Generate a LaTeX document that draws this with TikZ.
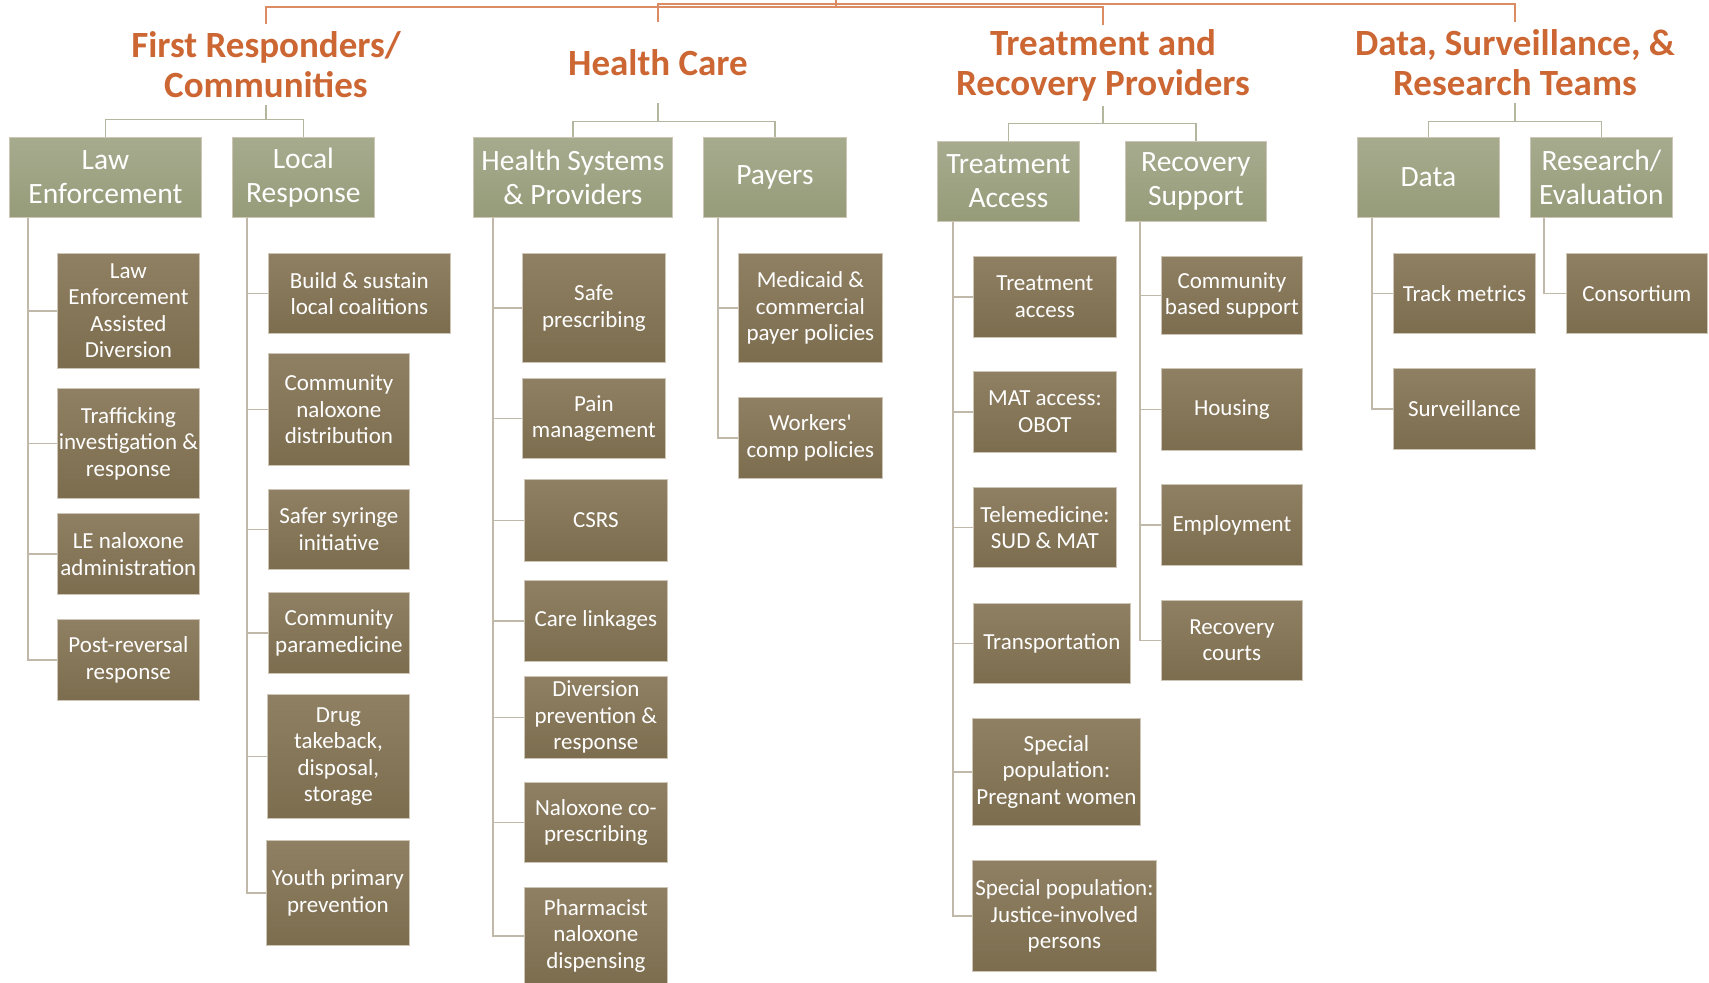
\documentclass[tikz,border=0pt]{standalone}
\usepackage{fontspec}
\setmainfont{Carlito}
\usetikzlibrary{calc}
\definecolor{ttl}{RGB}{204,102,51}
\definecolor{topln}{RGB}{220,140,100}
\definecolor{lvtwotop}{RGB}{166,171,142}
\definecolor{lvtwobot}{RGB}{150,156,121}
\definecolor{lvthrtop}{RGB}{143,128,99}
\definecolor{lvthrbot}{RGB}{125,109,79}
\definecolor{lntwo}{RGB}{180,183,158}
\definecolor{lnthr}{RGB}{192,184,168}
\definecolor{bxedge}{RGB}{205,198,182}
\newcommand\lbox[7]{\node[#1, anchor=north west, minimum width={(#5-#3)*1pt}, minimum height={(#6-#4)*1pt}] (#2) at (#3,#4) {#7};}
\begin{document}
\begin{tikzpicture}[x=1pt,y=-1pt,
  titlenode/.style={text=ttl, font=\bfseries\fontsize{37}{40}\selectfont, align=center, inner sep=0pt, anchor=north, minimum height=81pt},
  lvtwo/.style={top color=lvtwotop, bottom color=lvtwobot, draw=bxedge, line width=0.8pt, text=white, align=center, inner sep=2pt, font=\fontsize{29.5}{34}\selectfont},
  lvthr/.style={top color=lvthrtop, bottom color=lvthrbot, draw=bxedge, line width=0.8pt, text=white, align=center, inner sep=1pt, font=\fontsize{23}{26.5}\selectfont},
  lone/.style={draw=topln, line width=1.6pt},
  ltwo/.style={draw=lntwo, line width=1.6pt},
  lthr/.style={draw=lnthr, line width=1.6pt}]
\fill[white] (0,0) rectangle (1709,983);
\useasboundingbox (0,0) rectangle (1709,983);

% titles
\coordinate (root) at (836,-2);
\node[titlenode] (FR) at (266,24) {First Responders/\\Communities};
\node[titlenode] (HC) at (658,22) {Health Care};
\node[titlenode] (TR) at (1103,25) {Treatment and\\Recovery Providers};
\node[titlenode] (DS) at (1515,22) {Data, Surveillance, \&\\Research Teams};

\draw[lone] (root) -- ++(0,9) -| (FR.north);
\draw[lone] (root) -- ++(0,9) -| (TR.north);
\draw[lone] (root) -- ++(0,6) -| (HC.north);
\draw[lone] (root) -- ++(0,6) -| (DS.north);

% level 2
\lbox{lvtwo}{LE}{9}{137}{201}{217}{Law\\Enforcement}
\lbox{lvtwo}{LR}{232}{137}{374}{217}{Local\\Response}
\lbox{lvtwo}{HS}{473}{137}{672}{217}{Health Systems\\\& Providers}
\lbox{lvtwo}{PAY}{703}{137}{846}{217}{Payers}
\lbox{lvtwo}{TA}{937}{141}{1079}{221}{Treatment\\Access}
\lbox{lvtwo}{RS}{1125}{141}{1266}{221}{Recovery\\Support}
\lbox{lvtwo}{DATA}{1357}{137}{1499}{217}{Data}
\lbox{lvtwo}{RE}{1530}{137}{1672}{217}{Research/\\Evaluation}

\draw[ltwo] (FR.south) -- ++(0,14) -| (LE.north);
\draw[ltwo] (FR.south) -- ++(0,14) -| (LR.north);
\draw[ltwo] (HC.south) -- ++(0,18) -| (HS.north);
\draw[ltwo] (HC.south) -- ++(0,18) -| (PAY.north);
\draw[ltwo] (TR.south) -- ++(0,17) -| (TA.north);
\draw[ltwo] (TR.south) -- ++(0,17) -| (RS.north);
\draw[ltwo] (DS.south) -- ++(0,18) -| (DATA.north);
\draw[ltwo] (DS.south) -- ++(0,18) -| (RE.north);

% level 3
\lbox{lvthr}{LEAD}{57}{253}{199}{368}{Law\\Enforcement\\Assisted\\Diversion}
\lbox{lvthr}{TRAF}{57}{388}{199}{498}{Trafficking\\investigation \&\\response}
\lbox{lvthr}{LENX}{57}{513}{199}{594}{LE naloxone\\administration}
\lbox{lvthr}{POST}{57}{619}{199}{700}{Post-reversal\\response}

\lbox{lvthr}{BUILD}{268}{253}{450}{333}{Build \& sustain\\local coalitions}
\lbox{lvthr}{CND}{268}{353}{409}{465}{Community\\naloxone\\distribution}
\lbox{lvthr}{SSI}{268}{489}{409}{569}{Safer syringe\\initiative}
\lbox{lvthr}{PARA}{268}{592}{409}{673}{Community\\paramedicine}
\lbox{lvthr}{DRUG}{267}{694}{409}{818}{Drug\\takeback,\\disposal,\\storage}
\lbox{lvthr}{YOUTH}{266}{840}{409}{945}{Youth primary\\prevention}

\lbox{lvthr}{SAFE}{522}{253}{665}{362}{Safe\\prescribing}
\lbox{lvthr}{PAIN}{522}{378}{665}{458}{Pain\\management}
\lbox{lvthr}{CSRS}{524}{479}{667}{561}{CSRS}
\lbox{lvthr}{CARE}{524}{580}{667}{661}{Care linkages}
\lbox{lvthr}{DIV}{524}{676}{667}{758}{Diversion\\prevention \&\\response}
\lbox{lvthr}{NCO}{524}{782}{667}{862}{Naloxone co-\\prescribing}
\lbox{lvthr}{PHARM}{524}{887}{667}{984}{Pharmacist\\naloxone\\dispensing}

\lbox{lvthr}{MED}{738}{253}{882}{362}{Medicaid \&\\commercial\\payer policies}
\lbox{lvthr}{WORK}{738}{397}{882}{478}{Workers\textquotesingle\\comp policies}

\lbox{lvthr}{TACC}{973}{256}{1116}{337}{Treatment\\access}
\lbox{lvthr}{MAT}{973}{371}{1116}{452}{MAT access:\\OBOT}
\lbox{lvthr}{TELE}{973}{487}{1116}{567}{Telemedicine:\\SUD \& MAT}
\lbox{lvthr}{TRANS}{973}{603}{1130}{683}{Transportation}
\lbox{lvthr}{PREG}{972}{718}{1140}{825}{Special\\population:\\Pregnant women}
\lbox{lvthr}{JUST}{972}{860}{1156}{971}{Special population:\\Justice-involved\\persons}

\lbox{lvthr}{CBS}{1161}{256}{1302}{334}{Community\\based support}
\lbox{lvthr}{HOUS}{1161}{368}{1302}{450}{Housing}
\lbox{lvthr}{EMP}{1161}{484}{1302}{565}{Employment}
\lbox{lvthr}{RC}{1161}{600}{1302}{680}{Recovery\\courts}

\lbox{lvthr}{TRACK}{1393}{253}{1535}{333}{Track metrics}
\lbox{lvthr}{SURV}{1393}{368}{1535}{449}{Surveillance}
\lbox{lvthr}{CONS}{1566}{253}{1707}{333}{Consortium}

% level 2 -> 3 connectors
\foreach \c in {LEAD,TRAF,LENX,POST} \draw[lthr] ([xshift=19pt]LE.south west) |- (\c.west);
\foreach \c in {BUILD,CND,SSI,PARA,DRUG,YOUTH} \draw[lthr] ([xshift=15pt]LR.south west) |- (\c.west);
\foreach \c in {SAFE,PAIN,CSRS,CARE,DIV,NCO,PHARM} \draw[lthr] ([xshift=20pt]HS.south west) |- (\c.west);
\foreach \c in {MED,WORK} \draw[lthr] ([xshift=15pt]PAY.south west) |- (\c.west);
\foreach \c in {TACC,MAT,TELE,TRANS,PREG,JUST} \draw[lthr] ([xshift=16pt]TA.south west) |- (\c.west);
\foreach \c in {CBS,HOUS,EMP,RC} \draw[lthr] ([xshift=15pt]RS.south west) |- (\c.west);
\foreach \c in {TRACK,SURV} \draw[lthr] ([xshift=15pt]DATA.south west) |- (\c.west);
\foreach \c in {CONS} \draw[lthr] ([xshift=14pt]RE.south west) |- (\c.west);
\end{tikzpicture}
\end{document}
